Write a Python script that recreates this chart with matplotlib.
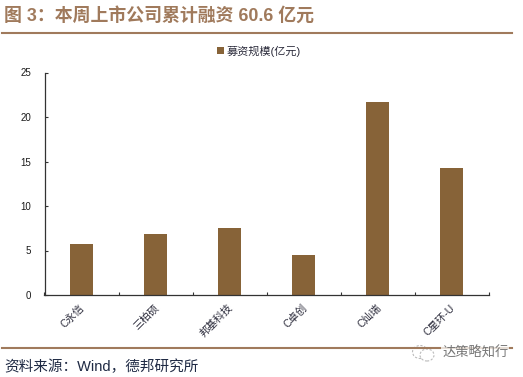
import matplotlib
matplotlib.use("Agg")
import matplotlib.pyplot as plt
from matplotlib.patches import Ellipse

CJK = ['Liberation Sans', 'Noto Sans CJK SC']
plt.rcParams['font.family'] = CJK

categories = ['C永信', '三柏硕', '邦基科技', 'C卓创', 'C灿瑞', 'C星环-U']
values = [5.7, 6.8, 7.5, 4.5, 21.7, 14.3]
yticks = [0, 5, 10, 15, 20, 25]
series_name = '募资规模(亿元)'
title = '图 3：本周上市公司累计融资 60.6 亿元'
source = '资料来源：Wind，德邦研究所'
watermark = '达策略知行'
W, H = 523, 377
BAR = '#876338'
RULE = '#A07A5C'
INK = '#1A1A1A'

fig = plt.figure(figsize=(W/100, H/100), dpi=100, facecolor='white')
ax = fig.add_axes([44.5/W, 1-295/H, (489-44.5)/W, (295-72.5)/H])
x = range(len(categories))
ax.bar(x, values, width=0.31, color=BAR, label=series_name, zorder=2)
ax.set_xlim(-0.5, 5.5)
ax.set_ylim(0, 25)
ax.set_yticks(yticks)
ax.set_xticks([i-0.5 for i in range(7)])
ax.set_xticklabels([])
ax.tick_params(axis='x', direction='in', length=2.5, width=0.8, color='#333333')
ax.tick_params(axis='y', direction='in', length=2.5, width=0.8, color='#333333', labelsize=7, pad=9.7, labelcolor=INK)
for s in ('top', 'right'):
    ax.spines[s].set_visible(False)
for s in ('left', 'bottom'):
    ax.spines[s].set_linewidth(0.9)
    ax.spines[s].set_color('#333333')

for i, c in enumerate(categories):
    ax.annotate(c, (i, 0), xytext=(-1.5, -5.5), textcoords='offset points', rotation=45,
                ha='right', va='top', rotation_mode='anchor', fontsize=7.5, color='#2A2A3A')

ax.legend(loc='center', bbox_to_anchor=(259/W, 1-51/H), bbox_transform=fig.transFigure, frameon=False,
          fontsize=8, handlelength=0.6, handleheight=0.6, handletextpad=0.3, labelcolor='#2A2A3A',
          borderpad=0)

fig.text(4/W, 1-15.5/H, title, fontsize=12.9, fontweight='bold', color=RULE, va='center', ha='left')
fig.add_artist(plt.Line2D([2/W, 512/W], [1-33/H, 1-33/H], color=RULE, lw=1.5))
fig.add_artist(plt.Line2D([2/W, 512/W], [1-348/H, 1-348/H], color=RULE, lw=1.5))
fig.text(4/W, 1-367/H, source, fontsize=10.5, color='#1F2A44', va='center', ha='left')

# watermark: speech-bubble outlines and name
for cx, cy, w, h in [(420, 352, 15, 13), (427, 355, 14, 12)]:
    fig.add_artist(Ellipse((cx/W, 1-cy/H), w/W, h/H, transform=fig.transFigure, fill=True,
                           facecolor='white', edgecolor='#BBBBBB', lw=0.8, ls=(0, (2, 1.5))))
fig.text(442/W, 1-353/H, watermark, fontsize=9.5, color='#777777', va='center', ha='left',
         bbox=dict(facecolor='white', edgecolor='none', pad=0.8, alpha=0.75))
fig.savefig('out.png', dpi=100)
